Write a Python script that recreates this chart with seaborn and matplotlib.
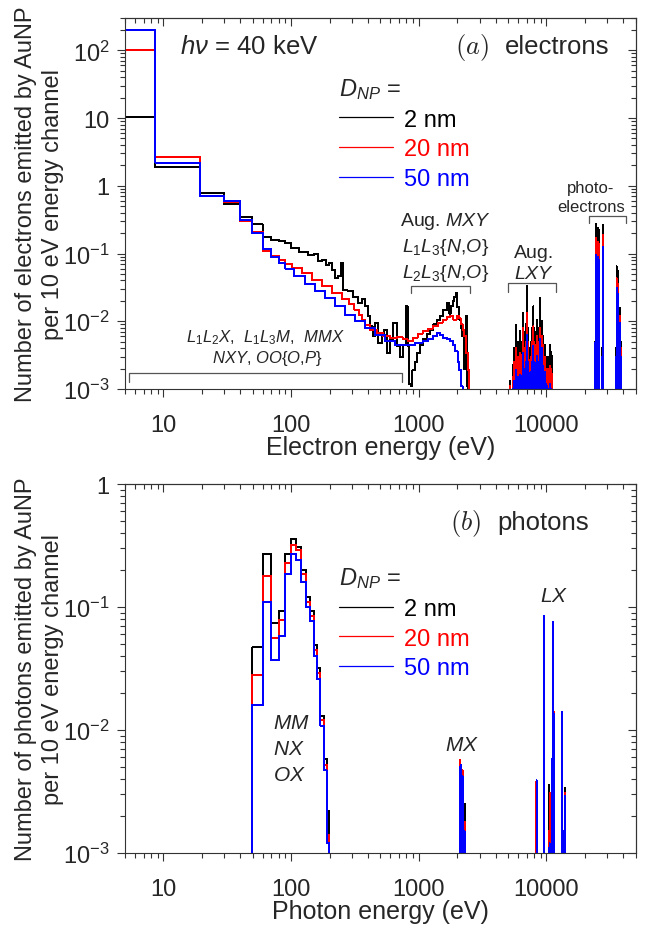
import numpy as np
import pandas as pd
import matplotlib
matplotlib.use("Agg")
import matplotlib.pyplot as plt
import matplotlib.ticker as mticker
import matplotlib.transforms as mtransforms
from matplotlib.lines import Line2D
import seaborn as sns

# ---------------- data ----------------
SIZES = ["2 nm", "20 nm", "50 nm"]
COLORS = {"2 nm": "#000000", "20 nm": "#ff0000", "50 nm": "#0000ff"}

# electrons: continuous part (channel centre in eV, counts per channel)
e_cont_2nm = [5, 15, 25, 35, 45, 55, 65, 75, 85, 95, 105, 125, 145, 158, 169, 180, 196, 202, 214, 227,
              240, 249, 264, 290, 317, 347, 369, 393, 405, 430, 441, 469, 498, 529, 545, 579, 614, 652, 693, 735,
              780, 805, 830, 855, 880, 907, 963, 990, 1050, 1120, 1190, 1265, 1340, 1425, 1510, 1607, 1705, 1760, 1812, 1870,
              1924, 1983, 2040, 2105, 2170, 2235, 2306, 2376, 2420, 2480]
n_cont_2nm = [10.5, 1.9, 0.79, 0.54, 0.35, 0.27, 0.178, 0.16, 0.155, 0.143, 0.12, 0.107, 0.096, 0.1, 0.077, 0.081, 0.068, 0.072, 0.058, 0.043,
              0.046, 0.072, 0.029, 0.028, 0.023, 0.0186, 0.021, 0.0166, 0.0118, 0.0084, 0.006, 0.0094, 0.0048, 0.006, 0.0075, 0.0034, 0.0054, 0.0094, 0.0043, 0.003,
              0.0045, 0.0166, 0.0043, 0.0012, 0.0011, 0.0019, 0.0025, 0.0034, 0.0045, 0.0054, 0.0065, 0.0075, 0.009, 0.0106, 0.012, 0.0148, 0.0186, 0.013, 0.0166, 0.02,
              0.023, 0.026, 0.016, 0.0106, 0.008, 0.006, 0.002, 0.012, 0.0011, 0]

e_cont_20nm = [5, 15, 25, 35, 45, 55, 65, 75, 85, 95, 110, 133, 160, 191, 229, 274, 300, 328, 350, 369,
               393, 441, 498, 562, 633, 714, 781, 855, 936, 1024, 1120, 1230, 1342, 1470, 1607, 1710, 1812, 1924, 2040, 2105,
               2172, 2240, 2306, 2376, 2450, 2520]
n_cont_20nm = [100, 2.7, 0.71, 0.57, 0.30, 0.21, 0.11, 0.093, 0.08, 0.07, 0.061, 0.052, 0.041, 0.033, 0.026, 0.021, 0.018, 0.0148, 0.0125, 0.0106,
               0.0089, 0.0075, 0.0067, 0.006, 0.0057, 0.0058, 0.0054, 0.0051, 0.0057, 0.0065, 0.0072, 0.0078, 0.0084, 0.0095, 0.0106, 0.0115, 0.012, 0.0106, 0.012, 0.011,
               0.009, 0.0075, 0.006, 0.0034, 0.0019, 0]

e_cont_50nm = [5, 15, 25, 35, 45, 55, 65, 75, 85, 95, 118, 141, 169, 202, 242, 290, 347, 416, 498, 596,
               714, 855, 1024, 1120, 1230, 1342, 1425, 1510, 1607, 1710, 1812, 1900, 1983, 2050, 2105, 2172, 2240]
n_cont_50nm = [200, 2.2, 0.71, 0.6, 0.31, 0.2, 0.115, 0.09, 0.072, 0.06, 0.046, 0.035, 0.028, 0.022, 0.0166, 0.0125, 0.01, 0.008, 0.0063, 0.0051,
               0.0045, 0.0044, 0.0048, 0.0051, 0.0055, 0.006, 0.0067, 0.0062, 0.0057, 0.0055, 0.0051, 0.0045, 0.0036, 0.0025, 0.0019, 0.0011, 0]

# electrons: Auger LXY lines
lxy_e = [5190, 5450, 5600, 5780, 5880, 5990, 6100, 6215, 6300, 6400, 6500, 6600, 6700, 6800, 6900, 7010, 7120,
         7230, 7340, 7450, 7560, 7680, 7800, 7910, 8030, 8150, 8270, 8400, 8520, 8650, 8780, 8920, 9050,
         9190, 9320, 9460, 9600, 9750, 9900, 10050, 10300, 10500, 10670, 10830, 10990]
lxy_2nm = [0.0013, 0.0023, 0.004, 0.0089, 0.004, 0.005, 0.004, 0.0071, 0.005, 0.0045, 0.005, 0.0132, 0.007, 0.006, 0.009, 0.033, 0.008,
           0.005, 0.004, 0.0038, 0.005, 0.008, 0.007, 0.0166, 0.008, 0.006, 0.007, 0.0106, 0.006, 0.005, 0.008, 0.022, 0.009,
           0.01, 0.005, 0.006, 0.004, 0.0045, 0.003, 0.003, 0.0025, 0.003, 0.0045, 0.0035, 0.0031]
lxy_20nm = [0.0011, 0.0015, 0.0025, 0.0041, 0.0025, 0.003, 0.0025, 0.0034, 0.003, 0.003, 0.0032, 0.008, 0.004, 0.004, 0.005, 0.0132, 0.005,
            0.003, 0.0025, 0.0027, 0.003, 0.005, 0.004, 0.0084, 0.005, 0.004, 0.0045, 0.006, 0.004, 0.003, 0.005, 0.008, 0.006,
            0.006, 0.0035, 0.0045, 0.003, 0.003, 0.002, 0.002, 0.0016, 0.002, 0.0022, 0.002, 0.0017]
lxy_50nm = [0, 0.001, 0.0013, 0.0019, 0.0013, 0.0015, 0.0013, 0.0016, 0.0015, 0.0015, 0.0016, 0.0034, 0.002, 0.002, 0.0025, 0.0063, 0.0025,
            0.0016, 0.0014, 0.0017, 0.0018, 0.0025, 0.002, 0.0043, 0.0025, 0.0022, 0.0024, 0.0031, 0.0022, 0.0018, 0.0025, 0.0055, 0.003,
            0.004, 0.002, 0.0022, 0.0016, 0.0018, 0.0012, 0.0011, 0, 0.001, 0.0012, 0.001, 0]

# electrons: photoelectron lines
pe_e = [24200, 24500, 24800, 25100, 25300, 25700, 26000, 27300, 27600, 35200, 35500, 36000, 36400, 37400, 37700, 38200]
pe_2nm = [0.005, 0.275, 0.12, 0.15, 0.24, 0.1, 0.22, 0.004, 0.265, 0.004, 0.065, 0.02, 0.055, 0.003, 0.016, 0.005]
pe_20nm = [0.004, 0.17, 0.08, 0.1, 0.15, 0.07, 0.14, 0.003, 0.19, 0.003, 0.043, 0.015, 0.035, 0.002, 0.012, 0.004]
pe_50nm = [0.0048, 0.096, 0.05, 0.06, 0.09, 0.04, 0.08, 0.003, 0.127, 0.003, 0.031, 0.012, 0.025, 0.002, 0.0094, 0.003]

# photons: continuous part (MM, NX, OX)
p_cont_e = [45, 55, 65, 75, 85, 95, 105, 115, 125, 135, 145, 155, 165, 175, 185, 195, 205]
p_cont_2nm = [0, 0.047, 0.27, 0.074, 0.093, 0.27, 0.36, 0.31, 0.2, 0.12, 0.093, 0.049, 0.032, 0.013, 0.0058, 0.0022, 0]
p_cont_20nm = [0, 0.028, 0.18, 0.056, 0.078, 0.23, 0.32, 0.29, 0.185, 0.11, 0.085, 0.045, 0.029, 0.012, 0.0052, 0.0014, 0]
p_cont_50nm = [0, 0.016, 0.11, 0.037, 0.058, 0.185, 0.27, 0.24, 0.16, 0.1, 0.077, 0.04, 0.026, 0.0108, 0.0047, 0.0012, 0]

# photons: MX and LX lines
mx_e = [2120, 2150, 2205, 2230, 2290]
mx_2nm = [0.005, 0.0049, 0.004, 0.0035, 0.0025]
mx_20nm = [0.0057, 0.005, 0.0047, 0.004, 0.0018]
mx_50nm = [0.005, 0.0052, 0.0042, 0.0039, 0.0015]
lx_e = [8300, 8380, 9590, 10420, 10590, 11070, 11300, 11450, 13270, 13600, 13900]
lx_2nm = [0.0036, 0.0039, 0.083, 0.0036, 0.001, 0.0058, 0.073, 0.0139, 0.0138, 0.0015, 0.0034]
lx_20nm = [0.0038, 0.0038, 0.083, 0.0015, 0.0031, 0.0057, 0.073, 0.0139, 0.0137, 0.0014, 0.0031]
lx_50nm = [0, 0.0039, 0.084, 0.0011, 0.0012, 0.0058, 0.075, 0.0135, 0.014, 0.0015, 0.0029]

FLOOR = 1e-6


def continuum_xy(centres, values):
    # contiguous channels; step edges at geometric mid-points (log axis)
    c = np.asarray(centres, float)
    v = np.maximum(np.asarray(values, float), FLOOR)
    mids = np.sqrt(c[:-1] * c[1:])
    edges = np.concatenate([[c[0] ** 2 / mids[0]], mids, [c[-1] ** 2 / mids[-1]]])
    x = np.concatenate([[edges[0]], edges])
    y = np.concatenate([[FLOOR], v, [FLOOR]])
    return x, y


def lines_xy(centres, values):
    # isolated channels: narrower than a pixel, so drawn as a spike at the centre
    x, y = [], []
    for c, v in zip(centres, values):
        x += [c, c, c]
        y += [FLOOR, max(v, FLOOR), FLOOR]
    return np.array(x, float), np.array(y)


def spectrum_frame(parts):
    rows = []
    for size, pieces in parts.items():
        xs, ys = zip(*pieces)
        rows.append(pd.DataFrame({"energy": np.concatenate(xs), "count": np.concatenate(ys), "size": size}))
    return pd.concat(rows, ignore_index=True)


electrons = spectrum_frame({
    "2 nm": [continuum_xy(e_cont_2nm, n_cont_2nm), lines_xy(lxy_e, lxy_2nm), lines_xy(pe_e, pe_2nm)],
    "20 nm": [continuum_xy(e_cont_20nm, n_cont_20nm), lines_xy(lxy_e, lxy_20nm), lines_xy(pe_e, pe_20nm)],
    "50 nm": [continuum_xy(e_cont_50nm, n_cont_50nm), lines_xy(lxy_e, lxy_50nm), lines_xy(pe_e, pe_50nm)],
})
photons = spectrum_frame({
    "2 nm": [continuum_xy(p_cont_e, p_cont_2nm), lines_xy(mx_e, mx_2nm), lines_xy(lx_e, lx_2nm)],
    "20 nm": [continuum_xy(p_cont_e, p_cont_20nm), lines_xy(mx_e, mx_20nm), lines_xy(lx_e, lx_20nm)],
    "50 nm": [continuum_xy(p_cont_e, p_cont_50nm), lines_xy(mx_e, mx_50nm), lines_xy(lx_e, lx_50nm)],
})

# ---------------- style ----------------
sns.set_style("ticks")
plt.rcParams["font.family"] = ["Liberation Sans", "DejaVu Sans"]
plt.rcParams["mathtext.fontset"] = "custom"
plt.rcParams["mathtext.rm"] = "Liberation Sans"
plt.rcParams["mathtext.it"] = "Liberation Sans:italic"
plt.rcParams["mathtext.bf"] = "Liberation Sans:bold"
plt.rcParams["axes.edgecolor"] = "#333333"
plt.rcParams["axes.linewidth"] = 0.8
plt.rcParams["path.simplify"] = False

FS = 17
W, H = 647, 928
fig = plt.figure(figsize=(W / 100, H / 100), dpi=100)
ax1 = fig.add_axes([125 / W, 1 - 390 / H, 510.6 / W, 371 / H])
ax2 = fig.add_axes([125 / W, 1 - 854 / H, 510.6 / W, 369 / H])


def log_label(v, pos):
    n = int(round(np.log10(v)))
    if n == 0:
        return "1"
    if n == 1:
        return "10"
    return r"$10^{%d}$" % n


def style_axis(ax, ymin, ymax, xlabel, ylabel):
    ax.set_xscale("log")
    ax.set_yscale("log")
    ax.set_xlim(5, 50000)
    ax.set_ylim(ymin, ymax)
    ax.xaxis.set_major_locator(mticker.LogLocator(base=10, numticks=100))
    ax.xaxis.set_minor_locator(mticker.LogLocator(base=10, subs=np.arange(2, 10), numticks=100))
    ax.yaxis.set_major_locator(mticker.LogLocator(base=10, numticks=100))
    ax.yaxis.set_minor_locator(mticker.LogLocator(base=10, subs=np.arange(2, 10), numticks=100))
    ax.xaxis.set_major_formatter(mticker.FuncFormatter(lambda v, p: "%d" % round(v)))
    ax.yaxis.set_major_formatter(mticker.FuncFormatter(log_label))
    ax.xaxis.set_minor_formatter(mticker.NullFormatter())
    ax.yaxis.set_minor_formatter(mticker.NullFormatter())
    ax.tick_params(which="both", direction="out", width=0.8, color="#333333", labelsize=FS)
    ax.tick_params(which="major", length=6)
    ax.tick_params(which="minor", length=3.5)
    ax.tick_params(axis="x", which="major", pad=12)
    ax.tick_params(axis="y", which="major", pad=5)
    for loc in ("top", "right"):
        sec = ax.secondary_xaxis("top") if loc == "top" else ax.secondary_yaxis("right")
        axis = sec.xaxis if loc == "top" else sec.yaxis
        axis.set_major_locator(mticker.LogLocator(base=10, numticks=100))
        axis.set_minor_locator(mticker.LogLocator(base=10, subs=np.arange(2, 10), numticks=100))
        axis.set_major_formatter(mticker.NullFormatter())
        axis.set_minor_formatter(mticker.NullFormatter())
        sec.tick_params(which="both", direction="in", width=0.8, color="#333333")
        sec.tick_params(which="major", length=6)
        sec.tick_params(which="minor", length=3.5)
    ax.set_xlabel(xlabel, fontsize=FS + 1)
    ax.set_ylabel(ylabel, fontsize=FS, linespacing=1.25)
    ax.xaxis.set_label_coords(0.5, -0.125)
    ax.yaxis.set_label_coords(-0.12, 0.5)


for ax, df in ((ax1, electrons), (ax2, photons)):
    sns.lineplot(data=df, x="energy", y="count", hue="size", hue_order=SIZES, palette=COLORS,
                 estimator=None, sort=False, drawstyle="steps-post", linewidth=0.72, legend=False,
                 antialiased=False, snap=False, ax=ax)

style_axis(ax1, 1e-3, 300, "Electron energy (eV)",
           "Number of electrons emitted by AuNP\nper 10 eV energy channel")
style_axis(ax2, 1e-3, 1, "Photon energy (eV)",
           "Number of photons emitted by AuNP\nper 10 eV energy channel")

handles = [Line2D([], [], color=COLORS[s], lw=0.9) for s in SIZES]
for ax, anchor in ((ax1, (0.419, 0.843)), (ax2, (0.419, 0.779))):
    ax.legend(handles, SIZES, title=r"$D_{NP}$ =", loc="upper left", bbox_to_anchor=anchor,
              frameon=False, fontsize=FS, title_fontsize=FS, handlelength=2.3, handletextpad=0.45,
              labelspacing=0.32, borderpad=0, borderaxespad=0, alignment="left", labelcolor="linecolor")

# ---------------- annotations ----------------
ax1.text(0.108, 0.924, r"$h\nu$ = 40 keV", transform=ax1.transAxes, fontsize=18.5, va="center")
ax1.text(0.646, 0.924, r"$(a)$", transform=ax1.transAxes, fontsize=19, va="center", math_fontfamily="cm")
ax1.text(0.744, 0.924, "electrons", transform=ax1.transAxes, fontsize=18.5, va="center")
ax2.text(0.636, 0.897, r"$(b)$", transform=ax2.transAxes, fontsize=19, va="center", math_fontfamily="cm")
ax2.text(0.729, 0.897, "photons", transform=ax2.transAxes, fontsize=18.5, va="center")

small = 14
ax1.text(0.627, 0.454, r"Aug. $MXY$", transform=ax1.transAxes, fontsize=small, ha="center", va="center")
ax1.text(0.627, 0.383, r"$L_1L_3\{N{,}O\}$", transform=ax1.transAxes, fontsize=small, ha="center", va="center")
ax1.text(0.627, 0.315, r"$L_2L_3\{N{,}O\}$", transform=ax1.transAxes, fontsize=small, ha="center", va="center")
ax1.text(0.801, 0.369, "Aug.", transform=ax1.transAxes, fontsize=small, ha="center", va="center")
ax1.text(0.801, 0.31, r"$LXY$", transform=ax1.transAxes, fontsize=small, ha="center", va="center")
ax1.text(0.912, 0.544, "photo-", transform=ax1.transAxes, fontsize=12, ha="center", va="center")
ax1.text(0.912, 0.493, "electrons", transform=ax1.transAxes, fontsize=12, ha="center", va="center")
ax1.text(0.274, 0.14, r"$L_1L_2X$,  $L_1L_3M$,  $MMX$", transform=ax1.transAxes, fontsize=12, ha="center", va="center")
ax1.text(0.278, 0.086, r"$NXY$, $OO\{O{,}P\}$", transform=ax1.transAxes, fontsize=12, ha="center", va="center")

ax2.text(0.289, 0.355, r"$MM$", transform=ax2.transAxes, fontsize=15, va="center")
ax2.text(0.289, 0.282, r"$NX$", transform=ax2.transAxes, fontsize=15, va="center")
ax2.text(0.289, 0.214, r"$OX$", transform=ax2.transAxes, fontsize=15, va="center")
ax2.text(0.659, 0.295, r"$MX$", transform=ax2.transAxes, fontsize=15, ha="center", va="center")
ax2.text(0.840, 0.697, r"$LX$", transform=ax2.transAxes, fontsize=15, ha="center", va="center")

# brackets (energy span, height in axes fraction)
brackets = [(5.4, 740, 0.043, 0.019), (865, 2524, 0.278, 0.259),
            (4977, 11890, 0.286, 0.261), (21430, 41800, 0.467, 0.447)]
trans = mtransforms.blended_transform_factory(ax1.transData, ax1.transAxes)
for x0, x1, ytop, yend in brackets:
    ax1.plot([x0, x0, x1, x1], [yend, ytop, ytop, yend], color="#555555", lw=0.9,
             transform=trans, clip_on=False)

fig.savefig("out.png", dpi=100)
